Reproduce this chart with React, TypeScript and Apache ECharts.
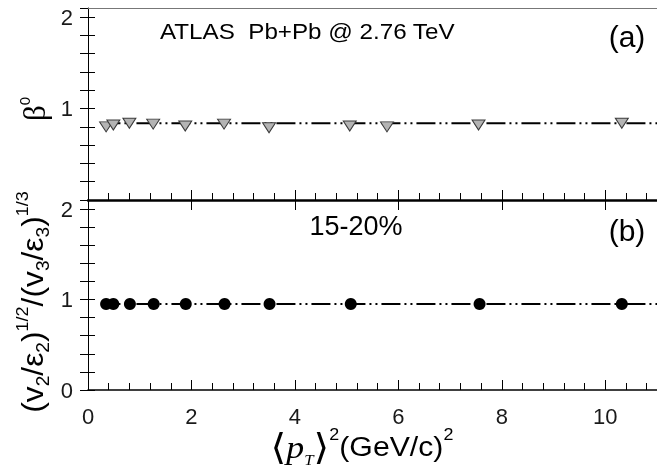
import React, { useEffect, useRef } from 'react';
import * as echarts from 'echarts';

// ---- data ----
const xTop = [0.35, 0.49, 0.8, 1.26, 1.88, 2.63, 3.5, 5.06, 5.78, 7.55, 10.32];
const betaTop = [0.8, 0.82, 0.84, 0.83, 0.81, 0.83, 0.79, 0.81, 0.8, 0.82, 0.84];
const xBottom = [0.35, 0.49, 0.81, 1.27, 1.89, 2.64, 3.51, 5.08, 7.57, 10.32];
const ratioBottom = [0.95, 0.95, 0.95, 0.95, 0.95, 0.95, 0.95, 0.95, 0.95, 0.95];
const fitTop = 0.84;
const fitBottom = 0.95;
const fitXRange = [0.26, 11];
const xTickLabels = ['0', '2', '4', '6', '8', '10'];
const yTopTickLabels = ['1', '2'];
const yBottomTickLabels = ['0', '1', '2'];

const SANS = '"Liberation Sans", Arial, sans-serif';
const SERIF = '"Liberation Serif", "Times New Roman", serif';
const DASH = [19, 4, 2, 4, 2, 4];

const pick = (labels: string[]) => (v: number) => {
  const hit = labels.find((l) => Math.abs(Number(l) - v) < 1e-6);
  return hit ?? '';
};

export default function App() {
  const ref = useRef<HTMLDivElement>(null);
  useEffect(() => {
    if (!ref.current) return;
    const chart = echarts.init(ref.current, undefined, { renderer: 'svg' });
    const labelStyle = { fontFamily: SANS, fontSize: 22, color: '#1a1a1a' };
    const yBase = (gridIndex: number, labels: string[], pos: 'left' | 'right') => ({
      type: 'value',
      gridIndex,
      position: pos,
      min: 0,
      max: 2.1,
      interval: 0.2,
      splitLine: { show: false },
      axisLine: { show: pos === 'left', lineStyle: { color: '#000', width: 1 } },
      axisTick: { show: true, inside: true, length: pos === 'left' ? 7 : 8, lineStyle: { color: '#000', width: 1 } },
      axisLabel: pos === 'left'
        ? { show: true, margin: 15, formatter: pick(labels), showMaxLabel: false, ...labelStyle }
        : { show: false },
    });
    const xBase = (gridIndex: number, extra: any) => ({
      type: 'value',
      gridIndex,
      min: 0,
      max: 11,
      splitLine: { show: false },
      axisLabel: { show: false },
      ...extra,
    });
    chart.setOption({
      animation: false,
      grid: [
        { left: 88, top: 8, right: 0, height: 192 },
        { left: 88, top: 200, right: 0, height: 190 },
      ],
      xAxis: [
        xBase(0, {
          position: 'bottom', interval: 0.4,
          axisLine: { show: true, lineStyle: { color: '#000', width: 2.5 } },
          axisTick: { show: true, inside: true, length: 7, lineStyle: { color: '#000' } },
        }),
        xBase(0, {
          position: 'bottom', interval: 2,
          axisLine: { show: false },
          axisTick: { show: true, inside: true, length: 10, lineStyle: { color: '#000' } },
        }),
        xBase(0, {
          position: 'top', interval: 2,
          axisLine: { show: true, lineStyle: { color: '#777', width: 1 } },
          axisTick: { show: false },
        }),
        xBase(1, {
          position: 'bottom', interval: 0.4,
          axisLine: { show: true, lineStyle: { color: '#000', width: 1.5 } },
          axisTick: { show: true, inside: true, length: 7, lineStyle: { color: '#000' } },
          axisLabel: { show: true, margin: 15, formatter: pick(xTickLabels), showMaxLabel: false, ...labelStyle },
        }),
        xBase(1, {
          position: 'bottom', interval: 2,
          axisLine: { show: false },
          axisTick: { show: true, inside: true, length: 10, lineStyle: { color: '#000' } },
        }),
        xBase(1, {
          position: 'top', interval: 2,
          axisLine: { show: false },
          axisTick: { show: true, inside: true, length: 10, lineStyle: { color: '#000' } },
        }),
      ],
      yAxis: [
        yBase(0, yTopTickLabels, 'left'),
        yBase(0, yTopTickLabels, 'right'),
        yBase(1, yBottomTickLabels, 'left'),
        yBase(1, yBottomTickLabels, 'right'),
      ],
      series: [
        {
          type: 'line', xAxisIndex: 0, yAxisIndex: 0, z: 1, silent: true,
          symbol: 'none', data: fitXRange.map((x) => [x, fitTop]),
          lineStyle: { color: '#000', width: 2, type: DASH },
        },
        {
          type: 'scatter', xAxisIndex: 0, yAxisIndex: 0, z: 3,
          symbol: 'triangle', symbolRotate: 180, symbolSize: [13, 10],
          data: xTop.map((x, i) => [x, betaTop[i]]),
          itemStyle: { color: '#b4b4b4', borderColor: '#3a3a3a', borderWidth: 1, opacity: 1 },
        },
        {
          type: 'line', xAxisIndex: 3, yAxisIndex: 2, z: 1, silent: true,
          symbol: 'none', data: fitXRange.map((x) => [x, fitBottom]),
          lineStyle: { color: '#000', width: 2, type: DASH },
        },
        {
          type: 'scatter', xAxisIndex: 3, yAxisIndex: 2, z: 3,
          symbol: 'circle', symbolSize: 12,
          data: xBottom.map((x, i) => [x, ratioBottom[i]]),
          itemStyle: { color: '#000', opacity: 1 },
        },
      ],
      graphic: [
        {
          type: 'text', x: 160, y: 31, scaleX: 1.1,
          style: { text: 'ATLAS  Pb+Pb @ 2.76 TeV', fontFamily: SANS, fontSize: 22, fill: '#000', align: 'left', verticalAlign: 'middle' },
        },
        {
          type: 'text', x: 627, y: 36,
          style: { text: '(a)', fontFamily: SANS, fontSize: 30, fill: '#000', align: 'center', verticalAlign: 'middle' },
        },
        {
          type: 'text', x: 627, y: 230,
          style: { text: '(b)', fontFamily: SANS, fontSize: 30, fill: '#000', align: 'center', verticalAlign: 'middle' },
        },
        {
          type: 'text', x: 356, y: 226,
          style: { text: '15-20%', fontFamily: SANS, fontSize: 27, fill: '#000', align: 'center', verticalAlign: 'middle' },
        },
        {
          type: 'text', x: 34, y: 109, rotation: Math.PI / 2,
          style: {
            text: '{b|β}{s|0}', align: 'center', verticalAlign: 'middle', fill: '#000',
            rich: {
              b: { fontFamily: SERIF, fontSize: 31, lineHeight: 34 },
              s: { fontFamily: SANS, fontSize: 15, lineHeight: 15, verticalAlign: 'top' },
            },
          },
        },
        {
          type: 'text', x: 33, y: 302, rotation: Math.PI / 2, scaleX: 1.06,
          style: {
            text: '{m|(v}{sb|2}{m|/ε}{sb|2}{m|)}{sp|1/2}{m|/(v}{sb|3}{m|/ε}{sb|3}{m|)}{sp|1/3}',
            align: 'center', verticalAlign: 'middle', fill: '#000',
            rich: {
              m: { fontFamily: SANS, fontSize: 30, lineHeight: 38 },
              sb: { fontFamily: SANS, fontSize: 18, lineHeight: 18, verticalAlign: 'bottom' },
              sp: { fontFamily: SANS, fontSize: 17, lineHeight: 17, verticalAlign: 'top' },
            },
          },
        },
        {
          type: 'text', x: 362, y: 447, scaleX: 1.12,
          style: {
            text: '{br|⟨}{p|p}{t|T}{br|⟩}{sp|2}{m|(GeV/c)}{sp|2}',
            align: 'center', verticalAlign: 'middle', fill: '#000',
            rich: {
              br: { fontFamily: '"DejaVu Sans", "Noto Sans"', fontSize: 36, lineHeight: 40 },
              p: { fontFamily: SERIF, fontStyle: 'italic', fontSize: 32, lineHeight: 40 },
              t: { fontFamily: SERIF, fontStyle: 'italic', fontSize: 15, lineHeight: 16, verticalAlign: 'bottom' },
              sp: { fontFamily: SANS, fontSize: 16, lineHeight: 16, verticalAlign: 'top' },
              m: { fontFamily: SANS, fontSize: 27, lineHeight: 40 },
            },
          },
        },
      ],
    });
    return () => chart.dispose();
  }, []);
  return <div ref={ref} style={{ position: 'fixed', left: 0, top: 0, width: 657, height: 468 }} />;
}
